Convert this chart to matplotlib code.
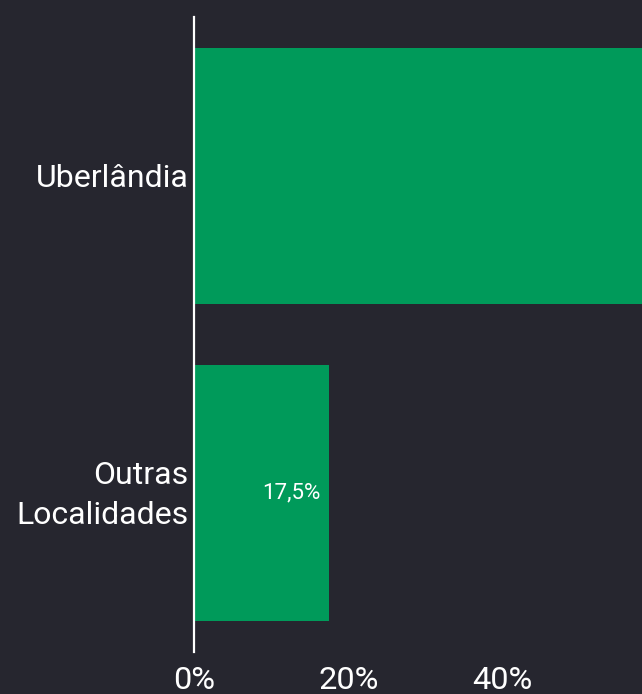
import matplotlib.pyplot as plt
from matplotlib.ticker import FuncFormatter

plt.rcParams['font.family'] = ['Roboto', 'DejaVu Sans']

categories = ['Uberlândia', 'Outras\nLocalidades']
values = [82.5, 17.5]
labels = ['82,5%', '17,5%']

bg = '#26262f'
green = '#009a5a'

fig = plt.figure(figsize=(6.42, 6.94), dpi=100, facecolor=bg)
ax = fig.add_axes([194 / 642, 42 / 694, 1 - 194 / 642, 635 / 694])
ax.set_facecolor(bg)

y = list(range(len(categories)))
ax.barh(y, values, height=0.805, color=green)
for yi, v, lab in zip(y, values, labels):
    ax.text(v - 1.1, yi, lab, ha='right', va='center', color='white',
            fontsize=16, clip_on=True)

ax.set_xlim(0, 58.06)
ax.set_ylim(1.5, -0.5)
ax.set_yticks(y)
ax.set_yticklabels([])
# category labels drawn as annotations so the two-line one can sit a bit higher
for yi, cat in zip(y, categories):
    dy = 4.3 if '\n' in cat else 0
    ax.annotate(cat, xy=(0, yi), xycoords=('axes fraction', 'data'),
                xytext=(-3.8, dy), textcoords='offset points',
                ha='right', va='center_baseline', multialignment='right',
                fontsize=23, color='white', linespacing=1.47)

ax.set_xticks([0, 20, 40])
ax.xaxis.set_major_formatter(FuncFormatter(lambda v, p: f'{v:.0f}%'))
ax.tick_params(axis='x', length=0, pad=10, labelsize=23.4, labelcolor='white')
ax.tick_params(axis='y', length=0)

for s in ['top', 'right', 'bottom']:
    ax.spines[s].set_visible(False)
ax.spines['left'].set_color('white')
ax.spines['left'].set_linewidth(1.6)

fig.savefig('out.png', dpi=100, facecolor=bg)
